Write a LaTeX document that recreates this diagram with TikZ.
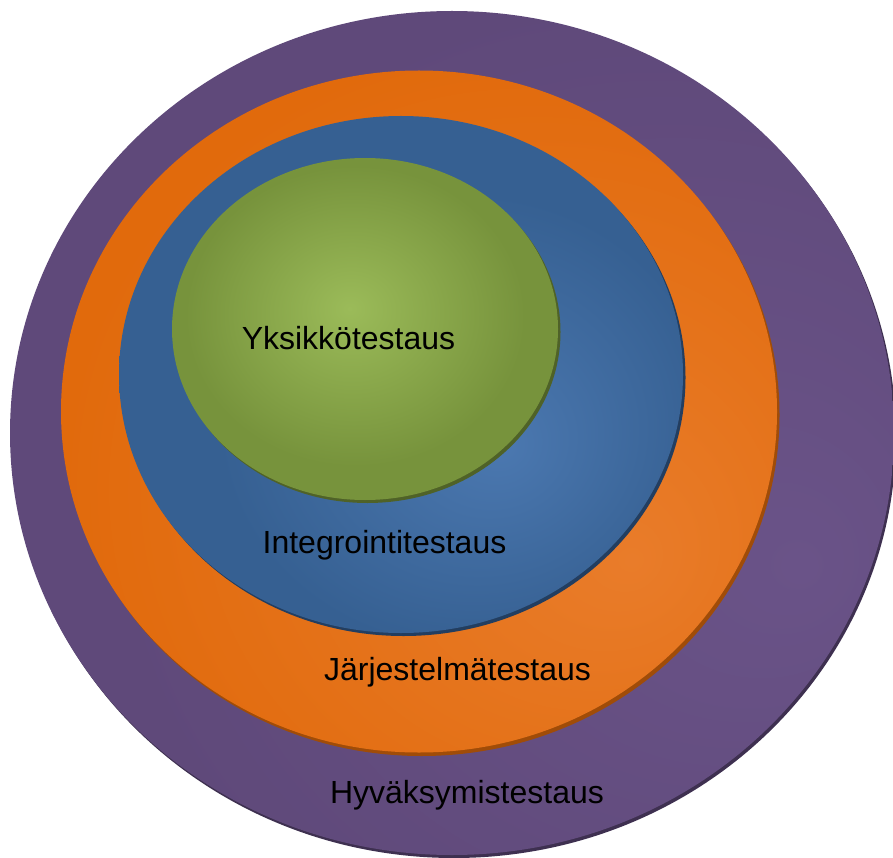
\documentclass[tikz,border=0pt]{standalone}
\usepackage{fontspec}
\setmainfont{Liberation Sans}
\usetikzlibrary{shapes.geometric}

% level colours: rim, highlight, shadow
\definecolor{purpleEdge}{HTML}{5F497A}
\definecolor{purpleLight}{HTML}{6A5388}
\definecolor{purpleShadow}{HTML}{3E3050}
\definecolor{orangeEdge}{HTML}{E16A0C}
\definecolor{orangeLight}{HTML}{E97C2A}
\definecolor{orangeShadow}{HTML}{A04C08}
\definecolor{blueEdge}{HTML}{366092}
\definecolor{blueLight}{HTML}{4B78B0}
\definecolor{blueShadow}{HTML}{233E60}
\definecolor{greenEdge}{HTML}{77933C}
\definecolor{greenLight}{HTML}{9BBB59}
\definecolor{greenShadow}{HTML}{4F6228}

% radial glows with an off-centre highlight
\pgfdeclareradialshading{purpleglow}{\pgfpoint{20bp}{-8bp}}%
  {color(0bp)=(purpleLight); color(30bp)=(purpleEdge); color(60bp)=(purpleEdge)}
\pgfdeclareradialshading{orangeglow}{\pgfpoint{15bp}{-11bp}}%
  {color(0bp)=(orangeLight); color(32bp)=(orangeEdge); color(60bp)=(orangeEdge)}
\pgfdeclareradialshading{blueglow}{\pgfpoint{9bp}{-7bp}}%
  {color(0bp)=(blueLight); color(22bp)=(blueEdge); color(60bp)=(blueEdge)}
\pgfdeclareradialshading{greenglow}{\pgfpoint{-2bp}{3bp}}%
  {color(0bp)=(greenLight); color(22bp)=(greenEdge); color(60bp)=(greenEdge)}

\tikzset{
  level/.style={ellipse, inner sep=0pt, draw=none},
  shadowdisc/.style={ellipse, inner sep=0pt, draw=none, fill=#1},
  label/.style={anchor=base, inner sep=0pt, text=black,
                font=\fontsize{32pt}{36pt}\selectfont},
}

\begin{document}
\begin{tikzpicture}[x=1pt, y=-1pt]
  \useasboundingbox (0,0) rectangle (893,858);

  % acceptance testing (outermost)
  \node[shadowdisc=purpleShadow, minimum width=884pt, minimum height=844pt] (accS) at (454,436) {};
  \node[level, shading=purpleglow, minimum width=884pt, minimum height=844pt] (acc) at (452,433) {};

  % system testing
  \node[shadowdisc=orangeShadow, minimum width=716pt, minimum height=682pt] (sysS) at (421.5,415) {};
  \node[level, shading=orangeglow, minimum width=716pt, minimum height=682pt] (sys) at (419,411.5) {};

  % integration testing
  \node[shadowdisc=blueShadow, minimum width=564pt, minimum height=517pt] (intS) at (403.5,377.5) {};
  \node[level, shading=blueglow, minimum width=564pt, minimum height=517pt] (int) at (401,374.5) {};

  % unit testing (innermost)
  \node[shadowdisc=greenShadow, minimum width=386pt, minimum height=342pt] (unitS) at (367.5,332) {};
  \node[level, shading=greenglow, minimum width=386pt, minimum height=342pt] (unit) at (365,329) {};

  % level names
  \node[label] (unitT) at (348.5,349) {Yksikkötestaus};
  \node[label] (intT)  at (384.5,553) {Integrointitestaus};
  \node[label] (sysT)  at (457.5,680) {Järjestelmätestaus};
  \node[label] (accT)  at (467,803)   {Hyväksymistestaus};
\end{tikzpicture}
\end{document}
